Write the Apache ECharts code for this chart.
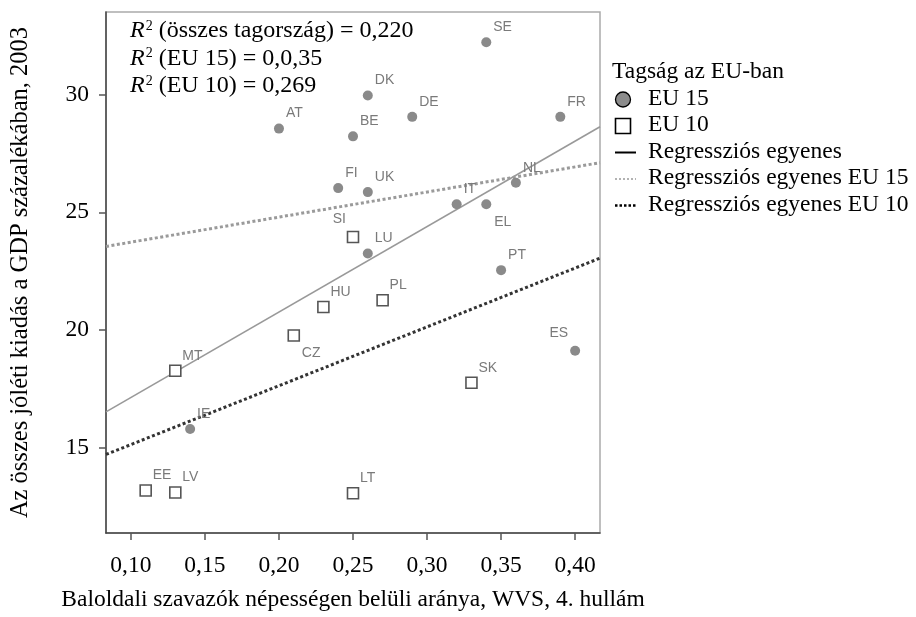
<!DOCTYPE html>
<html>
<head>
<meta charset="utf-8">
<script src="https://cdn.jsdelivr.net/npm/echarts@6/dist/echarts.min.js"></script>
<style>
html,body{margin:0;padding:0;background:#fff;}
#chart{width:916px;height:617px;}
</style>
</head>
<body>
<div id="chart"></div>
<script>
// ---- data ----
var eu15Names = ['SE','DK','DE','FR','AT','BE','FI','UK','NL','IT','EL','LU','PT','ES','IE'];
var eu15X = [0.34,0.26,0.29,0.39,0.20,0.25,0.24,0.26,0.36,0.32,0.34,0.26,0.35,0.40,0.14];
var eu15Y = [32.23,29.97,29.06,29.06,28.56,28.23,26.03,25.86,26.26,25.34,25.34,23.25,22.54,19.11,15.78];

var eu10Names = ['SI','PL','HU','CZ','MT','SK','EE','LV','LT'];
var eu10X = [0.25,0.27,0.23,0.21,0.13,0.33,0.11,0.13,0.25];
var eu10Y = [23.95,21.26,20.97,19.76,18.26,17.75,13.17,13.08,13.05];

// regression line end points [x, y]
var lineAll  = [[0.0832,16.51],[0.4168,28.64]];
var lineEU15 = [[0.0832,23.55],[0.4168,27.11]];
var lineEU10 = [[0.0832,14.70],[0.4168,23.05]];

var xTicks = [0.10,0.15,0.20,0.25,0.30,0.35,0.40];
var yTicks = [15,20,25,30];

var r2Lines = [
  ['(összes tagország) = 0,220'],
  ['(EU 15) = 0,0,35'],
  ['(EU 10) = 0,269']
];
var legendTitle = 'Tagság az EU-ban';
var legendNames = ['EU 15','EU 10','Regressziós egyenes','Regressziós egyenes EU 15','Regressziós egyenes EU 10'];

// ---- styling (label placement) ----
var labelPlace = { SI:'nw', ES:'nw', CZ:'se', EL:'se' };
function labelFor(name){
  var p = labelPlace[name] || 'ne';
  if (p === 'nw') return {align:'right', offset:[-7,-18]};
  if (p === 'se') return {align:'left', offset:[8,18]};
  return {align:'left', offset:[7,-15]};
}
function pts(names, xs, ys){
  return names.map(function(n,i){
    var l = labelFor(n);
    return {name:n, value:[xs[i], ys[i]], label:{align:l.align, offset:l.offset}};
  });
}

var serif = 'Liberation Serif';
var sans = 'Liberation Sans';

var chart = echarts.init(document.getElementById('chart'), null, {renderer:'canvas'});

var labelBase = {
  show:true, position:'inside', formatter:'{b}', verticalAlign:'middle',
  color:'#7a7a7a', fontFamily:sans, fontSize:14
};

var graphics = [];
var rich = {
  r:{fontFamily:serif, fontStyle:'italic', fontSize:24, color:'#000'},
  s:{fontFamily:serif, fontSize:14, color:'#000', verticalAlign:'top', padding:[0,0,0,1]},
  t:{fontFamily:serif, fontSize:24, color:'#000'}
};
r2Lines.forEach(function(l,i){
  graphics.push({
    type:'text', left:130, top:19 + i*27.5, z:10,
    style:{text:'{r|R}{s|2}{t| ' + l[0] + '}', rich:rich, fill:'#000'}
  });
});

// legend drawn as graphic elements
var lgX = 614, lgTextX = 648, lgRow0 = 73, lgGap = 26.5;
graphics.push({type:'text', left:612, top:lgRow0-13,
  style:{text:legendTitle, fontFamily:serif, fontSize:23.5, fill:'#000'}});
var rowsY = legendNames.map(function(n,i){ return lgRow0 + (i+1)*lgGap; });
legendNames.forEach(function(n,i){
  graphics.push({type:'text', left:lgTextX, top:rowsY[i]-13,
    style:{text:n, fontFamily:serif, fontSize:23.5, fill:'#000'}});
});
graphics.push({type:'circle', shape:{cx:lgX+9, cy:rowsY[0], r:7.5},
  style:{fill:'#8c8c8c', stroke:'#000', lineWidth:1.3}});
graphics.push({type:'rect', shape:{x:lgX+1.5, y:rowsY[1]-7.5, width:15, height:15},
  style:{fill:'#fff', stroke:'#000', lineWidth:1.6}});
graphics.push({type:'line', shape:{x1:lgX+1, y1:rowsY[2], x2:lgX+22, y2:rowsY[2]},
  style:{stroke:'#000', lineWidth:2}});
graphics.push({type:'line', shape:{x1:lgX+1, y1:rowsY[3], x2:lgX+22, y2:rowsY[3]},
  style:{stroke:'#999', lineWidth:1.5, lineDash:[2,2]}});
graphics.push({type:'line', shape:{x1:lgX+1, y1:rowsY[4], x2:lgX+22, y2:rowsY[4]},
  style:{stroke:'#000', lineWidth:2.5, lineDash:[2.5,2]}});

function fmt2(v){ return v.toFixed(2).replace('.', ','); }

chart.setOption({
  animation:false,
  backgroundColor:'#fff',
  grid:{left:105, right:316, top:12, bottom:82, show:true, borderColor:'#aaa', borderWidth:1.5},
  xAxis:{
    type:'value', min:0.0832, max:0.4168,
    name:'Baloldali szavazók népességen belüli aránya, WVS, 4. hullám',
    nameLocation:'middle', nameGap:55,
    nameTextStyle:{fontFamily:serif, fontSize:23.5, color:'#000'},
    axisLine:{show:true, onZero:false, lineStyle:{color:'#444', width:1.5}},
    axisTick:{show:true, inside:false, length:7, customValues:xTicks, lineStyle:{color:'#555', width:1.5}},
    axisLabel:{customValues:xTicks, formatter:function(v){return fmt2(v);}, margin:21,
      fontFamily:serif, fontSize:23.5, color:'#000'},
    splitLine:{show:false}
  },
  yAxis:{
    type:'value', min:11.36, max:33.52,
    name:'Az összes jóléti kiadás a GDP százalékában, 2003',
    nameLocation:'middle', nameGap:73,
    nameTextStyle:{fontFamily:serif, fontSize:24.5, color:'#000'},
    axisLine:{show:true, onZero:false, lineStyle:{color:'#444', width:1.5}},
    axisTick:{show:true, inside:false, length:7, customValues:yTicks, lineStyle:{color:'#555', width:1.5}},
    axisLabel:{customValues:yTicks, margin:17, fontFamily:serif, fontSize:23.5, color:'#000'},
    splitLine:{show:false}
  },
  graphic:graphics,
  series:[
    {type:'line', name:'Regressziós egyenes', data:lineAll, symbol:'none', silent:true,
      lineStyle:{color:'#999', width:1.6, type:'solid'}, z:2},
    {type:'line', name:'Regressziós egyenes EU 15', data:lineEU15, symbol:'none', silent:true,
      lineStyle:{color:'#9a9a9a', width:3, type:[3,2.5]}, z:2},
    {type:'line', name:'Regressziós egyenes EU 10', data:lineEU10, symbol:'none', silent:true,
      lineStyle:{color:'#333', width:3, type:[3,2.5]}, z:2},
    {type:'scatter', name:'EU 15', data:pts(eu15Names, eu15X, eu15Y), symbol:'circle', symbolSize:10,
      itemStyle:{color:'#8a8a8a', opacity:1}, label:labelBase, z:3},
    {type:'scatter', name:'EU 10', data:pts(eu10Names, eu10X, eu10Y), symbol:'rect', symbolSize:11,
      itemStyle:{color:'#fff', borderColor:'#555', borderWidth:1.6, opacity:1}, label:labelBase, z:3}
  ]
});
</script>
</body>
</html>
